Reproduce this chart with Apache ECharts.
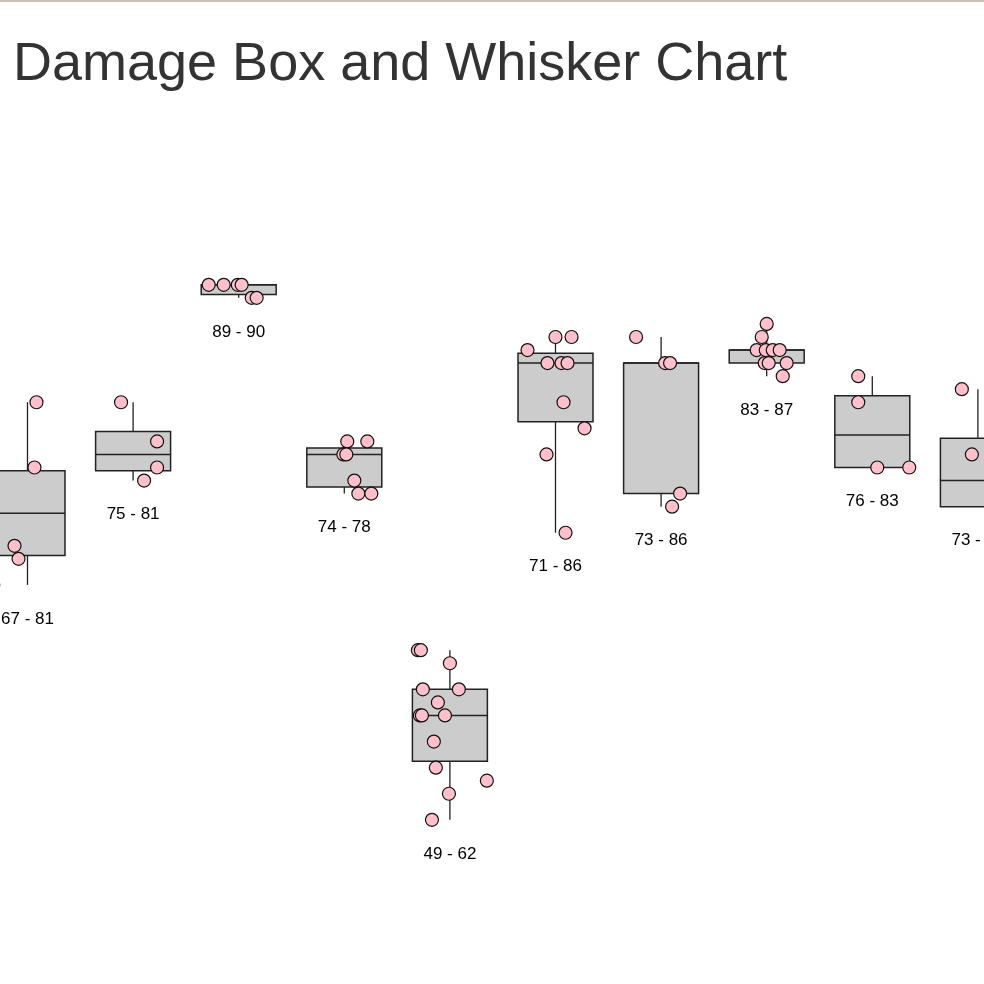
<!DOCTYPE html>
<html>
<head>
<meta charset="utf-8">
<script src="https://cdn.jsdelivr.net/npm/echarts@6/dist/echarts.min.js"></script>
<style>
html,body{margin:0;padding:0;background:#fff;}
#chart{width:984px;height:984px;}
</style>
</head>
<body>
<div id="chart"></div>
<script>
// ---- data ----
const categories = ['1','2','3','4','5','6','7','8','9','10'];
const boxMin    = [67, 75, 89, 74, 49, 71, 73, 83, 76, 73];
const boxQ1     = [69.25, 75.75, 89.25, 74.5, 53.5, 79.5, 74, 84, 76, 73];
const boxMedian = [72.5, 77, 90, 77, 57, 84, 84, 85, 78.5, 75];
const boxQ3     = [75.75, 78.75, 90, 77.5, 59, 84.75, 84, 85, 81.5, 78.25];
const boxMax    = [81, 81, 90, 78, 62, 86, 86, 87, 83, 82];

// individual damage points: group index, value, horizontal jitter (category units)
const pointGroup = [
  0,0,0,0,0,
  1,1,1,1,
  2,2,2,2,2,2,
  3,3,3,3,3,3,3,
  4,4,4,4,4,4,4,4,4,4,4,4,4,4,
  5,5,5,5,5,5,5,5,5,5,
  6,6,6,6,6,
  7,7,7,7,7,7,7,7,7,7,
  8,8,8,8,
  9,9
];
const pointValue = [
  81,76,70,69,67,
  81,78,76,75,
  90,90,90,90,89,89,
  78,78,77,77,75,74,74,
  62,62,61,59,59,58,57,57,57,55,53,52,51,49,
  86,86,85,84,84,84,81,79,77,71,
  86,84,84,74,73,
  87,86,85,85,85,85,84,84,84,83,
  83,81,76,76,
  82,77
];
const pointJitter = [
  0.085,0.066,-0.123,-0.085,-0.325,
  -0.114,0.227,0.227,0.104,
  -0.284,-0.142,-0.009,0.028,0.123,0.170,
  0.028,0.218,-0.009,0.019,0.095,0.133,0.256,
  -0.303,-0.275,0,-0.256,0.085,-0.114,-0.284,-0.265,-0.047,-0.152,-0.133,0.350,-0.009,-0.170,
  0,0.152,-0.265,-0.076,0.057,0.114,0.076,0.275,-0.085,0.095,
  -0.237,0.038,0.085,0.180,0.104,
  0,-0.047,-0.095,-0.009,0.057,0.123,-0.019,0.019,0.189,0.152,
  -0.133,-0.133,0.047,0.350,
  -0.152,-0.057
];

// ---- build options ----
const boxData = categories.map((c, i) => [i, boxMin[i], boxQ1[i], boxMedian[i], boxQ3[i], boxMax[i]]);
const pointData = pointValue.map((v, k) => [pointGroup[k] + pointJitter[k], v]);
const FONT = '"Liberation Sans", Arial, Helvetica, sans-serif';

const chart = echarts.init(document.getElementById('chart'), null, {renderer: 'canvas'});
chart.setOption({
  animation: false,
  backgroundColor: '#fff',
  title: {
    text: 'Damage Box and Whisker Chart',
    left: 8, top: 33,
    textStyle: {fontSize: 54, fontWeight: 'normal', color: '#333', fontFamily: FONT}
  },
  graphic: [{
    type: 'rect', left: 0, top: 0, shape: {width: 984, height: 2},
    style: {fill: '#cbc1b9'}, silent: true
  }],
  grid: {left: 0, width: 984, top: 154.3, height: 783},
  // visible window of the (wider) chart: group centres sit 105.6px apart
  xAxis: {type: 'value', min: -0.2604, max: 9.0578, show: false, splitLine: {show: false}},
  yAxis: {type: 'value', min: 40, max: 100, show: false, splitLine: {show: false}},
  series: [
    {
      type: 'custom',
      data: boxData,
      clip: false,
      renderItem: function (params, api) {
        const i = api.value(0);
        const mn = api.value(1), q1 = api.value(2), md = api.value(3), q3 = api.value(4), mx = api.value(5);
        const band = api.size([1, 0])[0];
        const w = band * 0.71;
        const pMin = api.coord([i, mn]), pQ1 = api.coord([i, q1]), pMd = api.coord([i, md]);
        const pQ3 = api.coord([i, q3]), pMax = api.coord([i, mx]);
        const cx = pMin[0];
        const lineStyle = {stroke: '#222', lineWidth: 1.3};
        return {
          type: 'group',
          children: [
            {type: 'line', shape: {x1: cx, y1: pMax[1], x2: cx, y2: pQ3[1]}, style: lineStyle},
            {type: 'line', shape: {x1: cx, y1: pQ1[1], x2: cx, y2: pMin[1]}, style: lineStyle},
            {type: 'rect', shape: {x: cx - w / 2, y: pQ3[1], width: w, height: pQ1[1] - pQ3[1]},
              style: {fill: '#cccccc', stroke: '#222', lineWidth: 1.5}},
            {type: 'line', shape: {x1: cx - w / 2, y1: pMd[1], x2: cx + w / 2, y2: pMd[1]},
              style: {stroke: '#222', lineWidth: 1.5}},
            {type: 'text', x: cx, y: pMin[1] + 34,
              style: {text: mn + ' - ' + mx, textAlign: 'center', textVerticalAlign: 'middle',
                fontSize: 17, fontFamily: FONT, fill: '#000'}}
          ]
        };
      },
      z: 2
    },
    {
      type: 'scatter',
      data: pointData,
      symbol: 'circle',
      symbolSize: 13,
      itemStyle: {color: '#ffc0cb', borderColor: '#111', borderWidth: 1.2, opacity: 1},
      clip: false,
      z: 3
    }
  ]
});
</script>
</body>
</html>
